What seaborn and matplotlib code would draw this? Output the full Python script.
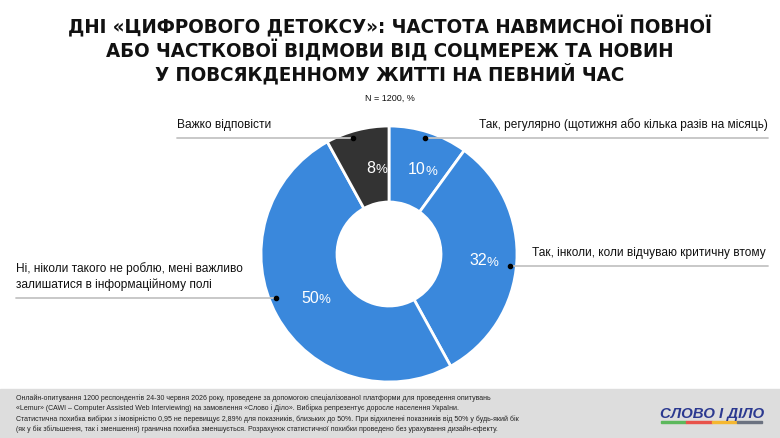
import numpy as np
import matplotlib
matplotlib.use("Agg")
import matplotlib.pyplot as plt
import seaborn as sns

# data
categories = [
    "Так, регулярно (щотижня або кілька разів на місяць)",
    "Так, інколи, коли відчуваю критичну втому",
    "Ні, ніколи такого не роблю, мені важливо\nзалишатися в інформаційному полі",
    "Важко відповісти",
]
values = [10, 32, 50, 8]
slice_colors = ["#3a88dc", "#3a88dc", "#3a88dc", "#333333"]

title = ("ДНІ «ЦИФРОВОГО ДЕТОКСУ»: ЧАСТОТА НАВМИСНОЇ ПОВНОЇ\n"
         "АБО ЧАСТКОВОЇ ВІДМОВИ ВІД СОЦМЕРЕЖ ТА НОВИН\n"
         "У ПОВСЯКДЕННОМУ ЖИТТІ НА ПЕВНИЙ ЧАС")
subtitle = "N = 1200, %"
footer = [
    "Онлайн-опитування 1200 респондентів 24-30 червня 2026 року, проведене за допомогою спеціалізованої платформи для проведення опитувань",
    "«Lemur» (CAWI – Computer Assisted Web Interviewing) на замовлення «Слово і Діло». Вибірка репрезентує доросле населення України.",
    "Статистична похибка вибірки з імовірністю 0,95 не перевищує 2,89% для показників, близьких до 50%. При відхиленні показників від 50% у будь-який бік",
    "(як у бік збільшення, так і зменшення) гранична похибка зменшується. Розрахунок статистичної похибки проведено без урахування дизайн-ефекту.",
]

sns.set_theme(style="white")
plt.rcParams["font.family"] = ["Liberation Sans", "DejaVu Sans"]

W, H = 780, 439
fig = plt.figure(figsize=(W / 100, H / 100), dpi=100)
fig.patch.set_facecolor("white")

# pie center / radius in pixels
cx, cy, R = 389, 255, 128
ax = fig.add_axes([(cx - R) / W, (H - cy - R) / H, 2 * R / W, 2 * R / H])
wedges, _ = ax.pie(values, colors=slice_colors, startangle=90, counterclock=False,
                   radius=1, wedgeprops=dict(width=1 - 52 / R, edgecolor="white", linewidth=2))
ax.set_xlim(-1, 1)
ax.set_ylim(-1, 1)
ax.set_aspect("equal")
ax.axis("off")

# percent labels inside the ring
for w, v in zip(wedges, values):
    ang = np.deg2rad((w.theta1 + w.theta2) / 2)
    x, y = 0.70 * np.cos(ang), 0.70 * np.sin(ang)
    ax.text(x + 0.07, y, str(v), ha="right", va="center", color="white", fontsize=11.5)
    ax.text(x + 0.065, y - 0.015, "%", ha="left", va="center", color="white", fontsize=9.5)

# leader lines: (line y px, line end x px, text x px, text align)
leaders = [(139, 768, 768, "right"), (267, 768, 532, "left"),
           (299, 16, 16, "left"), (139, 177, 177, "left")]
for (ly, ex, tx, ha), w, lab in zip(leaders, wedges, categories):
    dy = (cy - ly) / R
    r = 0.95
    dx = np.sqrt(max(r * r - dy * dy, 0))
    mid = (w.theta1 + w.theta2) / 2 % 360
    if 90 < mid < 270:
        dx = -dx
    ax.plot([dx, (ex - cx) / R], [dy, dy], color="#c4c4c4", lw=1.3, clip_on=False, zorder=3)
    ax.plot([dx], [dy], "o", color="black", ms=3, clip_on=False, zorder=4)
    ax.text((tx - cx) / R, dy + 0.06, lab, ha=ha, va="bottom", fontsize=8.6,
            color="#111111", linespacing=1.45, clip_on=False)

fig.text(0.5, 1 - 50 / H, title, ha="center", va="center", fontsize=14.7, fontweight="bold",
         family=["DejaVu Sans"], fontstretch="condensed", linespacing=1.12, color="#111111")
fig.text(0.5, 1 - 98 / H, subtitle, ha="center", va="center", fontsize=6.5, color="#111111")

# footer band
fig.patches.append(plt.Rectangle((0, 0), 1, 49 / H, transform=fig.transFigure,
                                 color="#dddddd", zorder=0))
for i, line in enumerate(footer):
    fig.text(16 / W, 1 - (398 + i * 10.3) / H, line, ha="left", va="center", fontsize=5.0,
             color="#222222")

# logo
fig.text(712 / W, 1 - 414 / H, "СЛОВО І ДІЛО", ha="center", va="center", fontsize=10.8,
         fontweight="heavy", style="italic", color="#2b3990")
bar_cols = ["#5cb85c", "#e8524a", "#f5b731", "#6b7280"]
for i, c in enumerate(bar_cols):
    x0 = 661 + i * 25.3
    fig.patches.append(plt.Rectangle((x0 / W, 1 - 424 / H), 25.3 / W, 2 / H,
                                     transform=fig.transFigure, color=c))

fig.savefig("out.png", dpi=100)
